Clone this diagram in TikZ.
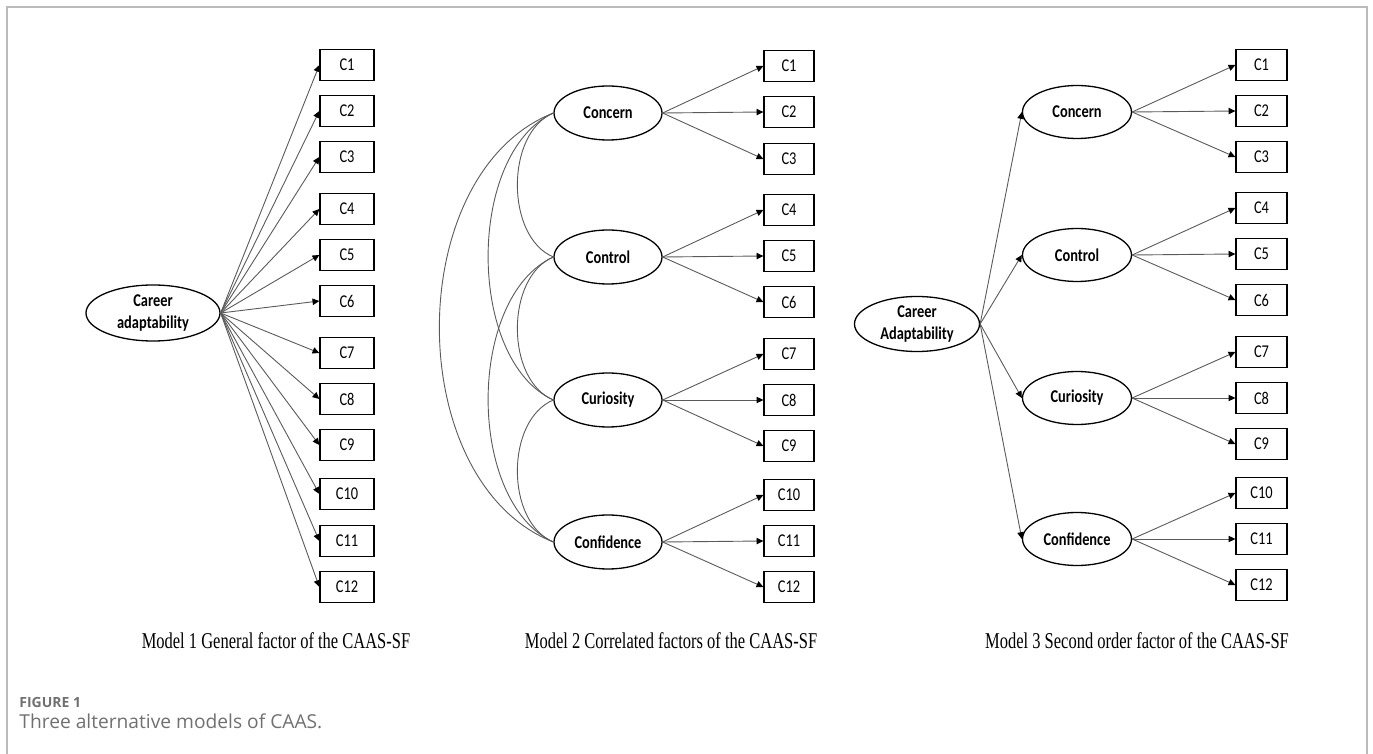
\documentclass[tikz,border=0pt]{standalone}
\usepackage{fontspec}
\usetikzlibrary{shapes.geometric,arrows.meta}
\newfontfamily\calfont[FakeStretch=0.8]{Carlito}
\newfontfamily\serfont[FakeStretch=0.73]{Liberation Serif}
\newfontfamily\osfont{Open Sans}
\definecolor{linegray}{HTML}{5A5A5A}
\definecolor{framegray}{HTML}{BBBBBB}
\definecolor{capgray}{HTML}{707070}
\begin{document}
\begin{tikzpicture}[x=0.5pt,y=-0.5pt,
  obs/.style={draw=black,line width=0.65pt,minimum width=26pt,minimum height=15.5pt,inner sep=0pt,
    font=\calfont\fontsize{9}{11}\selectfont},
  lat/.style={draw=black,line width=0.65pt,ellipse,minimum width=54pt,minimum height=27pt,inner sep=0pt,
    font=\calfont\bfseries\fontsize{9}{11}\selectfont},
  loadarrow/.style={draw=linegray,line width=0.45pt,-{Triangle[length=3.4pt,width=3.2pt,color=black]}},
  covline/.style={draw=linegray,line width=0.45pt},
  mcap/.style={font=\serfont\fontsize{11.3}{13}\selectfont,anchor=base,inner sep=0pt}]
\useasboundingbox (0,0) rectangle (1373,754);
% frame
\draw[framegray,line width=0.6pt] (7,754) -- (7,7) -- (1367,7) -- (1367,754);

% ---------------- Model 1
\node[lat,minimum width=67pt,minimum height=28pt,align=center] (ca1) at (153,313) {Career\\adaptability};
\foreach \i/\y in {1/65,2/111,3/157,4/209,5/255,6/301,7/353,8/399,9/445,10/494,11/541,12/587}{
  \node[obs,minimum width=27pt] (a\i) at (347,\y) {C\i};
  \draw[loadarrow] (ca1.east) -- (a\i.west);
}

% ---------------- Model 2
\foreach \n/\lab/\y in {con/Concern/113,ctl/Control/257,cur/Curiosity/400,cnf/Confidence/542}{
  \node[lat] (b\n) at (608,\y) {\lab};
}
\foreach \i/\y/\f in {1/66/con,2/112/con,3/159/con,4/210/ctl,5/256/ctl,6/302/ctl,7/354/cur,8/400/cur,9/446/cur,10/495/cnf,11/541/cnf,12/587/cnf}{
  \node[obs,minimum width=25pt] (b\i) at (789,\y) {C\i};
  \draw[loadarrow] (b\f.east) -- (b\i.west);
}
\draw[covline] (bcon.west) .. controls +(-48,20) and +(-48,-20) .. (bctl.west);
\draw[covline] (bctl.west) .. controls +(-48,20) and +(-48,-20) .. (bcur.west);
\draw[covline] (bcur.west) .. controls +(-48,20) and +(-48,-20) .. (bcnf.west);
\draw[covline] (bcon.west) .. controls +(-87,40) and +(-87,-40) .. (bcur.west);
\draw[covline] (bctl.west) .. controls +(-87,40) and +(-87,-40) .. (bcnf.west);
\draw[covline] (bcon.west) .. controls +(-152,60) and +(-152,-60) .. (bcnf.west);

% ---------------- Model 3
\node[lat,minimum width=62.5pt,minimum height=27.5pt,align=center] (ca3) at (917,324) {Career\\Adaptability};
\foreach \n/\lab/\y in {con/Concern/112,ctl/Control/255,cur/Curiosity/398,cnf/Confidence/539}{
  \node[lat,minimum width=54.5pt,minimum height=26.5pt] (c\n) at (1077,\y) {\lab};
  \draw[loadarrow] (ca3.east) -- (c\n.west);
}
\foreach \i/\y/\f in {1/65/con,2/111/con,3/157/con,4/208/ctl,5/254/ctl,6/300/ctl,7/352/cur,8/398/cur,9/444/cur,10/493/cnf,11/539/cnf,12/585/cnf}{
  \node[obs,minimum width=25.5pt] (c\i) at (1261.5,\y) {C\i};
  \draw[loadarrow] (c\f.east) -- (c\i.west);
}

% ---------------- captions
\node[mcap] (t1) at (276,648) {Model 1 General factor of the CAAS-SF};
\node[mcap] (t2) at (671,648) {Model 2 Correlated factors of the CAAS-SF};
\node[mcap] (t3) at (1137,648) {Model 3 Second order factor of the CAAS-SF};
\node[anchor=base west,inner sep=0pt,font=\osfont\bfseries\fontsize{7}{8}\selectfont,text=capgray] (fig) at (19,707) {FIGURE 1};
\node[anchor=base west,inner sep=0pt,font=\osfont\fontsize{9.6}{11}\selectfont,text=capgray] (cap) at (19,728) {Three alternative models of CAAS.};
\end{tikzpicture}
\end{document}
